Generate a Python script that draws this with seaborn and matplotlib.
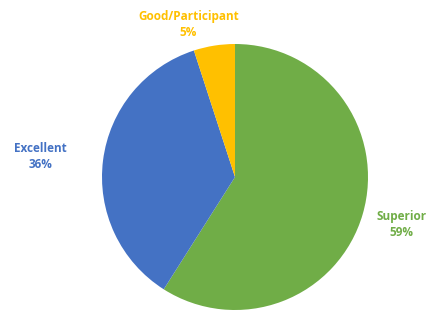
import numpy as np
import seaborn as sns
import matplotlib.pyplot as plt

categories = ['Superior', 'Excellent', 'Good/Participant']
shares = [59, 36, 5]
colors = ['#70AD47', '#4472C4', '#FFC000']

sns.set_style("white")
plt.rcParams['font.family'] = ['Open Sans', 'DejaVu Sans']

fig = plt.figure(figsize=(4.48, 3.12), dpi=100)
ax = fig.add_axes([0, 0, 1, 1])

# pie centred at (235, 177) px with radius 133 px
r = 133
cx, cy = 235, 177
ax.pie(shares, colors=colors, startangle=90, counterclock=False, radius=1,
       wedgeprops={'linewidth': 0})
ax.set_xlim(-cx / r, (448 - cx) / r)
ax.set_ylim(-(312 - cy) / r, cy / r)
ax.set_aspect('equal')
ax.axis('off')

# label placement (angle from centre, distance in radii)
label_pos = {'Superior': (-16, 1.3), 'Excellent': (174, 1.47), 'Good/Participant': (107, 1.2)}
for cat, val, col in zip(categories, shares, colors):
    ang, dist = label_pos[cat]
    x = dist * np.cos(np.radians(ang))
    y = dist * np.sin(np.radians(ang))
    ax.text(x, y, f'{cat}\n{val}%', ha='center', va='center', color=col,
            fontsize=8.5, fontweight='bold', linespacing=1.3)

plt.savefig('out.png', dpi=100)
